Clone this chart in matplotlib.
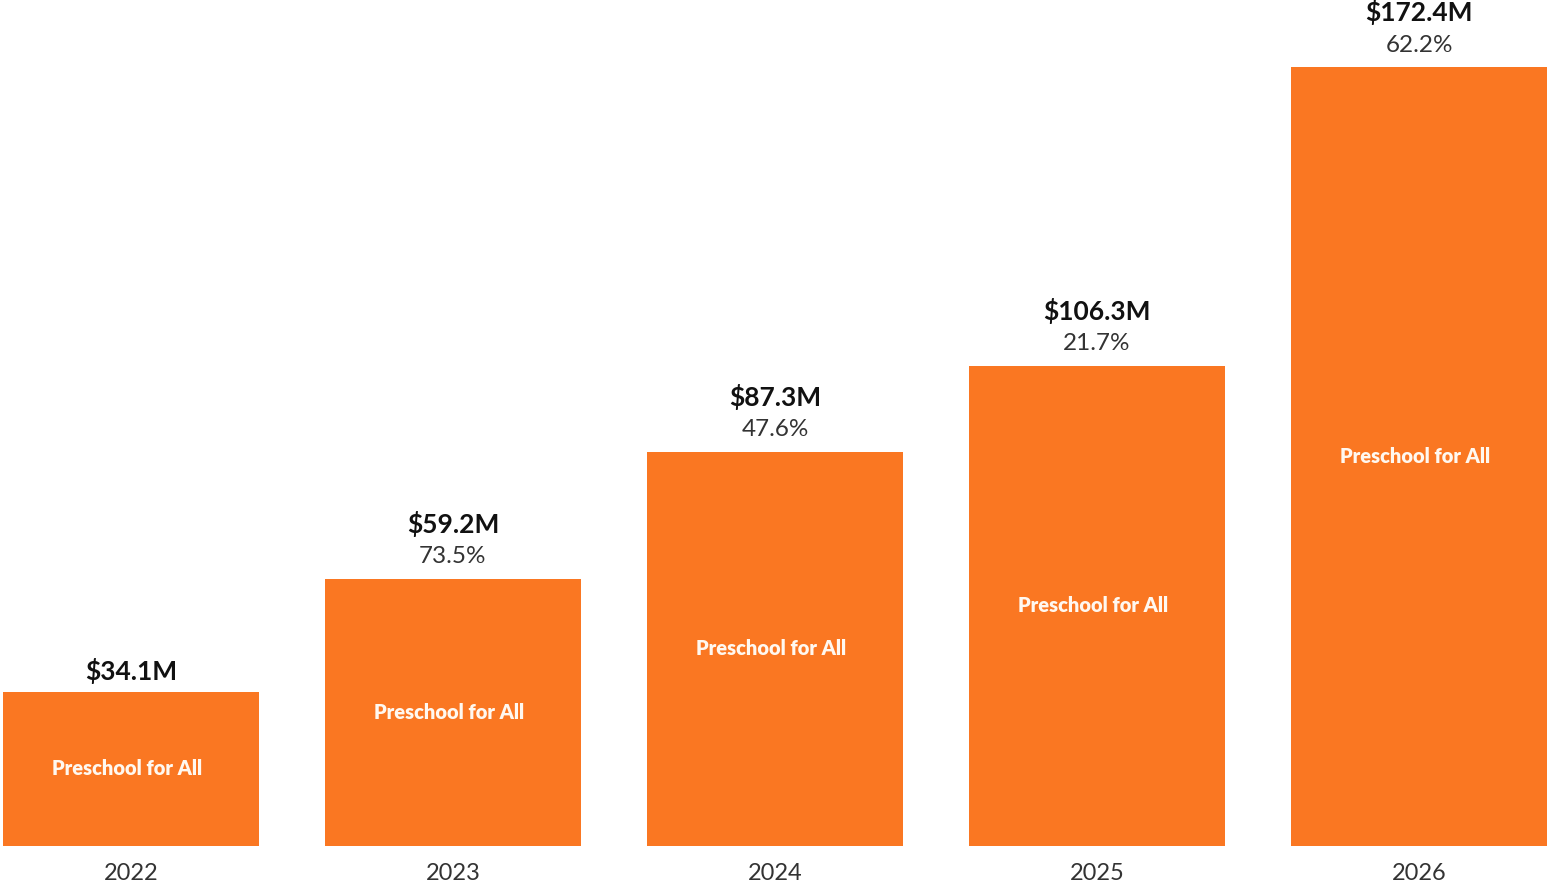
import matplotlib
matplotlib.use("Agg")
import matplotlib.pyplot as plt

years = ["2022", "2023", "2024", "2025", "2026"]
values = [34.1, 59.2, 87.3, 106.3, 172.4]
value_labels = ["$34.1M", "$59.2M", "$87.3M", "$106.3M", "$172.4M"]
growth_labels = ["", "73.5%", "47.6%", "21.7%", "62.2%"]
segment_label = "Preschool for All"

plt.rcParams['font.family'] = ['Lato', 'DejaVu Sans']

W, H = 1547, 885
fig = plt.figure(figsize=(W / 100, H / 100), dpi=100)
left_px, right_px, top_px, bot_px = 3, 1547, 67, 846
ax = fig.add_axes([left_px / W, 1 - bot_px / H, (right_px - left_px) / W, (bot_px - top_px) / H])

width = 0.795
x = list(range(len(years)))
color = "#FA7722"
ax.bar(x, values, width=width, color=color, edgecolor="none")
ax.set_xlim(-width / 2, len(years) - 1 + width / 2)
ax.set_ylim(0, max(values))
ax.axis("off")

px2pt = 72 / 100
for i, v in enumerate(values):
    ax.text(i - 0.012, v / 2, segment_label, ha="center", va="center", color="#FFF8F0",
            fontsize=14.5, fontweight="heavy")
    if growth_labels[i]:
        ax.annotate(growth_labels[i], (i, v), xytext=(0, 22 * px2pt), textcoords="offset points",
                    ha="center", va="center", fontsize=17.5, color="#333333", annotation_clip=False)
        off = 55
    else:
        off = 21
    ax.annotate(value_labels[i], (i, v), xytext=(0, off * px2pt), textcoords="offset points",
                ha="center", va="center", fontsize=19, fontweight="bold", color="#111111",
                annotation_clip=False)
    ax.annotate(years[i], (i, 0), xytext=(0, -28 * px2pt), textcoords="offset points",
                ha="center", va="center", fontsize=17, color="#333333", annotation_clip=False)

fig.savefig("out.png", dpi=100)
